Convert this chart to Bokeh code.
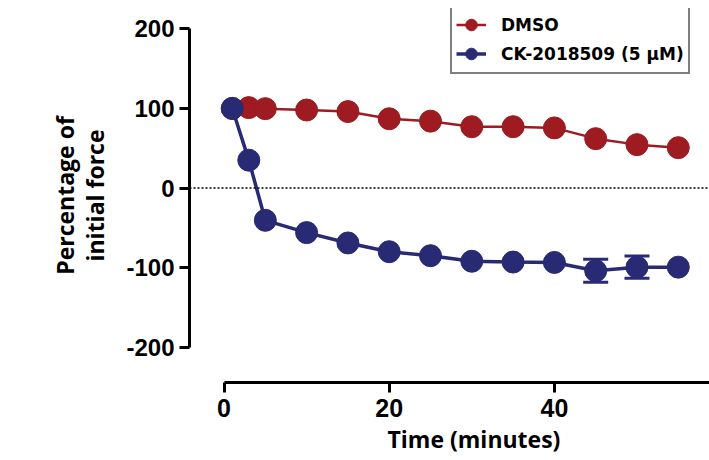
from bokeh.plotting import figure
from bokeh.models import (Range1d, FixedTicker, Span, Whisker, ColumnDataSource,
                          Legend, LegendItem, TeeHead, Title)
from bokeh.embed import file_html
from bokeh.resources import INLINE

# ---- data ----
time_min = [1, 3, 5, 10, 15, 20, 25, 30, 35, 40, 45, 50, 55]
dmso = [100, 101, 99.7, 98, 96, 87, 84, 77, 77, 75.5, 62, 54.5, 50.7]
ck2018509 = [100, 35, -40.6, -56, -69, -80, -85, -92, -93, -93.5, -104, -99.4, -99.4]
ck2018509_err = [0, 0, 0, 0, 0, 0, 0, 0, 0, 0, 14.5, 14, 0]
x_ticks = [0, 20, 40, 60]
y_ticks = [-200, -100, 0, 100, 200]
y_tick_labels = ["-200", "-100", "0", "100", "200"]
series_labels = ["DMSO", "CK-2018509 (5 \u03bcM)"]
x_title = "Time (minutes)"
y_title = "Percentage of\ninitial force"

RED = "#9e1b21"
BLUE = "#282a74"

p = figure(frame_width=520, frame_height=374,
           x_range=Range1d(-4.18, 58.78), y_range=Range1d(-244.3, 225.5),
           output_backend="svg", toolbar_location=None,
           min_border_left=189, min_border_right=0, min_border_top=8,
           min_border_bottom=0)
p.outline_line_color = None
p.grid.visible = False
p.background_fill_color = "white"

# zero reference line
p.add_layout(Span(location=0, dimension="width", line_color="black",
                  line_width=1.5, line_dash="2 2"))

# error bars (only those larger than the symbol are visible)
idx = [i for i, e in enumerate(ck2018509_err) if e > 0]
err_src = ColumnDataSource(dict(
    x=[time_min[i] for i in idx],
    upper=[ck2018509[i] + ck2018509_err[i] for i in idx],
    lower=[ck2018509[i] - ck2018509_err[i] for i in idx]))
p.add_layout(Whisker(source=err_src, base="x", upper="upper", lower="lower",
                     line_color=BLUE, line_width=3,
                     upper_head=TeeHead(size=25, line_color=BLUE, line_width=3),
                     lower_head=TeeHead(size=25, line_color=BLUE, line_width=3)))

src = ColumnDataSource(dict(t=time_min, d=dmso, c=ck2018509))
r_line = p.line("t", "d", source=src, line_color=RED, line_width=2.5)
r_pts = p.scatter("t", "d", source=src, size=22, fill_color=RED, line_color=RED)
b_line = p.line("t", "c", source=src, line_color=BLUE, line_width=3.5)
b_pts = p.scatter("t", "c", source=src, size=22, fill_color=BLUE, line_color=BLUE)

# axes
xa = p.xaxis[0]
ya = p.yaxis[0]
xa.bounds = (0, 60)
ya.bounds = (-200, 200)
xa.ticker = FixedTicker(ticks=x_ticks)
ya.ticker = FixedTicker(ticks=y_ticks)
ya.major_label_overrides = {t: s for t, s in zip(y_ticks, y_tick_labels)}
for ax in (xa, ya):
    ax.axis_line_width = 3
    ax.axis_line_color = "black"
    ax.major_tick_line_width = 3
    ax.major_tick_line_color = "black"
    ax.major_tick_out = 10
    ax.major_tick_in = 0
    ax.minor_tick_line_color = None
    ax.major_label_text_font = "Liberation Sans"
    ax.major_label_text_font_style = "bold"
    ax.major_label_text_color = "black"
    ax.axis_label_text_font = "Open Sans"
    ax.axis_label_text_font_style = "bold"
    ax.axis_label_text_color = "black"
xa.major_label_text_font_size = "25px"
ya.major_label_text_font_size = "24px"
xa.major_label_standoff = 6
ya.major_label_standoff = 5
ya.axis_label = y_title
ya.axis_label_text_font_size = "23px"
ya.axis_label_text_line_height = 0.95
ya.axis_label_standoff = 12

# x-axis title under the axis, placed over the 0-60 span
p.add_layout(Title(text=x_title, align="left", offset=198, standoff=3,
                   text_font="Open Sans", text_font_style="bold",
                   text_font_size="23px", text_color="black"), "below")

legend = Legend(items=[LegendItem(label=series_labels[0], renderers=[r_line, r_pts]),
                       LegendItem(label=series_labels[1], renderers=[b_line, b_pts])],
                location=(261, 308))
legend.label_text_font = "DejaVu Sans"
legend.label_text_font_style = "bold"
legend.label_text_font_size = "17px"
legend.label_text_color = "black"
legend.border_line_color = "black"
legend.border_line_width = 2
legend.background_fill_color = "white"
legend.background_fill_alpha = 1
legend.padding = 4
legend.spacing = 0
legend.margin = 0
legend.glyph_width = 30
legend.glyph_height = 29
legend.label_standoff = 15
p.add_layout(legend)

open("out.html", "w").write(file_html(p, INLINE))
